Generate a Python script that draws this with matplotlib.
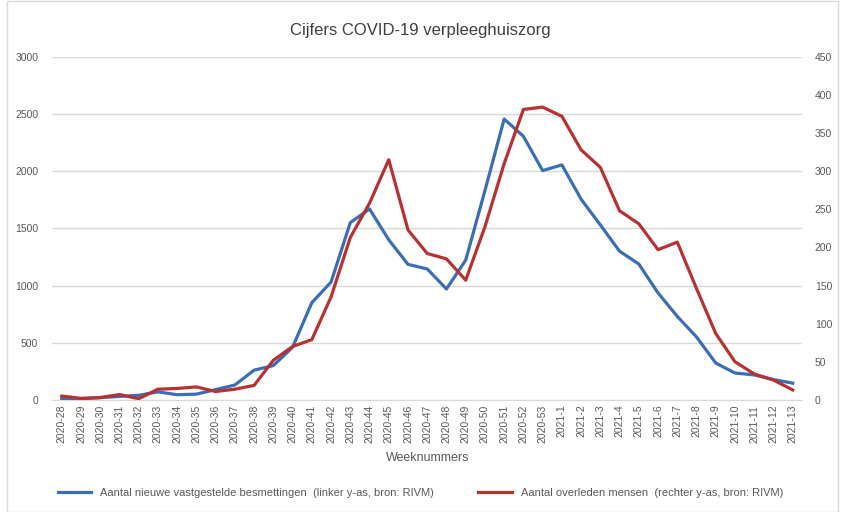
import matplotlib
matplotlib.use("Agg")
import matplotlib.pyplot as plt
from matplotlib.patches import Rectangle

plt.rcParams['font.family'] = ['Liberation Sans Narrow', 'Liberation Sans', 'DejaVu Sans']

weeks = ['2020-%d' % w for w in range(28, 54)] + ['2021-%d' % w for w in range(1, 14)]

# nieuwe vastgestelde besmettingen (linker y-as)
besmettingen = [10, 10, 20, 30, 40, 70, 45, 50, 90, 130, 260, 300, 460, 850, 1030,
                1550, 1670, 1400, 1185, 1145, 970, 1222, 1830, 2456, 2305, 2005,
                2055, 1755, 1530, 1300, 1188, 935, 730, 550, 322, 235, 218, 178, 146]

# overleden mensen (rechter y-as)
overleden = [5, 2, 3, 7, 1.5, 14, 15, 17, 11, 14, 19, 52, 70, 79, 135,
             213, 258, 315, 223, 192, 185, 157, 227, 310, 381, 384,
             372, 328, 305, 248, 231, 197, 207, 146, 87, 50, 34, 26, 13]

blue = '#3a6fb7'
red = '#b83232'
grey = '#595959'

fig = plt.figure(figsize=(8.41, 5.12), dpi=100)
ax = fig.add_axes([0.062, 0.219, 0.892, 0.67])
ax2 = ax.twinx()

x = list(range(len(weeks)))
l1, = ax.plot(x, besmettingen, color=blue, lw=2.3, zorder=3,
              label='Aantal nieuwe vastgestelde besmettingen  (linker y-as, bron: RIVM)')
l2, = ax2.plot(x, overleden, color=red, lw=2.3, zorder=3,
               label='Aantal overleden mensen  (rechter y-as, bron: RIVM)')

ax.set_xlim(-0.5, len(weeks) - 0.5)
ax.set_ylim(0, 3000)
ax2.set_ylim(0, 450)
ax.set_yticks(range(0, 3001, 500))
ax2.set_yticks(range(0, 451, 50))
ax.grid(axis='y', color='#d9d9d9', lw=1)
ax.set_axisbelow(True)

ax.set_xticks(x)
ax.set_xticklabels(weeks, rotation=90, fontsize=7.5, color=grey)
for a in (ax, ax2):
    for s in a.spines.values():
        s.set_visible(False)
    a.tick_params(length=0, labelsize=7.5, colors=grey)
ax.tick_params(axis='y', pad=10)
ax2.tick_params(axis='y', pad=9)
ax.spines['bottom'].set_visible(True)
ax.spines['bottom'].set_color('#d9d9d9')

ax.set_xlabel('Weeknummers', fontsize=9, color=grey, labelpad=6)
fig.suptitle('Cijfers COVID-19 verpleeghuiszorg', y=0.955, fontsize=12, color='#404040')

fig.legend(handles=[l1, l2], loc='center', bbox_to_anchor=(0.5, 0.037), ncol=2,
           frameon=False, fontsize=8, handlelength=3, columnspacing=4, labelcolor=grey)

fig.patches.append(Rectangle((0.008, 0.0), 0.988, 0.998, transform=fig.transFigure,
                             fill=False, edgecolor='#d9d9d9', lw=1))

fig.savefig('out.png', dpi=100)
